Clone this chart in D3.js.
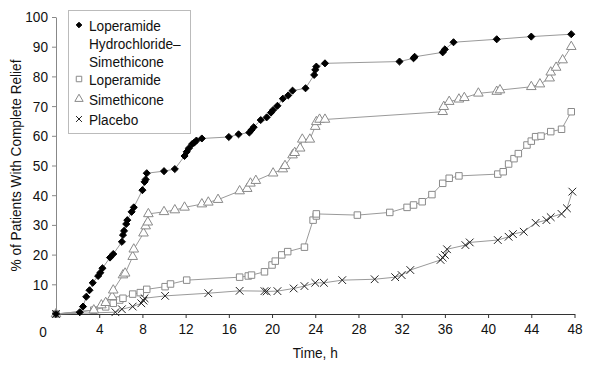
<!DOCTYPE html>
<html>
<head>
<meta charset="utf-8">
<script src="https://cdn.jsdelivr.net/npm/d3@7/dist/d3.min.js"></script>
<style>
  body { margin: 0; background: #fff; }
  svg text { font-family: "Liberation Sans", Arimo, "Helvetica", sans-serif; fill: #111; }
</style>
</head>
<body>
<svg id="svg" width="590" height="373"></svg>
<script>
// hours, % of patients
const comboData = [[0,0],[2.2,0.6],[2.5,2.5],[2.8,5.8],[3.1,8],[3.4,10.5],[3.9,12.8],[4.1,13.9],[4.3,15.4],
  [5.0,19],[5.3,20.2],[6.1,24.3],[6.2,26.6],[6.3,28],[6.5,30.3],[6.6,31.6],[7.0,34.4],[7.2,35.9],
  [8.0,41.7],[8.2,44.5],[8.3,45.3],[8.4,47.4],[10.0,48.1],[11.0,48.8],[11.9,53.2],[12.1,54.6],[12.3,55.8],
  [12.6,57.2],[12.8,57.7],[13.0,58.4],[13.5,59.1],[16.0,59.6],[16.9,60.5],[17.9,61.1],[18.1,62],[18.3,62.9],
  [18.95,65.3],[19.5,66.2],[19.9,67.8],[20.1,68.7],[20.5,70.1],[21.0,72.5],[21.5,73.6],[21.9,75.2],
  [23.1,76],[23.9,80.5],[24.0,82.2],[24.1,83.3],[24.9,84.4],[31.8,85.0],[33.1,86.1],[33.2,86.6],
  [35.8,88.1],[36.0,89.1],[36.8,91.5],[40.8,92.5],[44.0,93.4],[47.7,94.2]];

const loperamideData = [[0,0],[3.5,1.3],[4.6,2.4],[5.3,3.6],[5.9,4.7],[6.2,5.3],[7.1,6.7],[7.8,7.2],[8.4,8.3],
  [10.1,9.2],[10.6,10.1],[12.1,11.4],[17.0,12.4],[17.8,12.8],[18.1,13.1],[19.3,14.2],[20.0,16.5],
  [20.3,17.8],[20.9,19.9],[21.45,21],[23.0,22.5],[23.8,31.6],[24.1,33],[24.1,33.7],[27.9,33.3],
  [30.9,34.2],[32.5,35.9],[33.1,36.7],[33.9,37.8],[34.8,40.2],[35.8,44],[36.4,45.7],[37.3,46.5],
  [40.9,47.1],[41.4,47.9],[41.9,50.5],[42.4,52.3],[42.8,54],[43.6,56.9],[44.0,58.2],[44.4,59.7],
  [44.9,59.9],[45.8,61.4],[46.8,62.2],[47.7,68.1]];

const simethiconeData = [[0,0],[3.5,1.3],[4.2,3],[4.6,3.8],[5.2,5.8],[5.3,8],[6.2,13.1],[6.4,13.7],[7.1,19.3],
  [7.2,21.8],[8.1,27.2],[8.3,29.6],[8.5,30.9],[8.55,33.7],[10.0,34.4],[11.0,35],[11.9,35.9],[13.5,37],
  [14.1,37.6],[15.0,38.5],[17.0,41.4],[17.7,42.2],[18.0,44],[18.5,44.9],[20.1,47.4],[21.0,48.8],
  [21.2,49.9],[21.9,53.5],[22.1,54.3],[22.6,55.8],[22.8,58.8],[23.5,58.8],[24.0,63.1],[24.1,64.7],
  [24.4,65.5],[24.9,65.5],[35.8,68.1],[35.9,69.8],[36.4,71.5],[37.3,72.3],[37.8,72.8],[39.1,74.3],
  [40.8,74.9],[41.1,75.4],[44.0,76.5],[44.8,77.4],[45.7,79.4],[45.8,81.4],[46.3,83],[46.9,85.5],[47.7,90]];

const placeboData = [[0,0],[5.5,0.6],[6.1,1.6],[7.1,2.5],[7.9,3.6],[8.1,4.5],[8.2,5.3],[10.1,6.1],[14.1,7],
  [17.0,7.8],[19.3,7.7],[19.5,7.6],[20.5,7.7],[22.0,8.6],[23.0,9.4],[24.0,10.5],[24.8,10.5],[26.5,11.4],
  [29.5,11.7],[31.4,12.4],[32.0,13.1],[32.8,14.8],[35.6,18.2],[35.8,19],[36.0,19.9],[36.2,21.8],
  [37.9,23.2],[38.3,24.1],[40.9,24.9],[41.9,26],[42.3,26.9],[43.3,27.7],[44.4,30.7],[45.4,31.6],
  [45.8,32.6],[46.8,33.7],[47.3,35.6],[47.8,41.2]];

const legendLabels = [["Loperamide", "Hydrochloride\u2013", "Simethicone"], ["Loperamide"], ["Simethicone"], ["Placebo"]];
const xTicks = [4, 8, 12, 16, 20, 24, 28, 32, 36, 40, 44, 48];
const yTicks = [10, 20, 30, 40, 50, 60, 70, 80, 90, 100];

const svg = d3.select('#svg');
const squeeze = 0.88; // the original type is a condensed sans

const x = d3.scaleLinear().domain([0, 48]).range([56, 574.5]);
const y = d3.scaleLinear().domain([0, 100]).range([314, 17]);

// narrow text: scale horizontally round the anchor point
const narrowText = (g, tx, ty, str, size, anchor) => {
  return g.append('text')
    .attr('transform', `translate(${tx},${ty}) scale(${squeeze},1)`)
    .attr('text-anchor', anchor || 'start')
    .attr('font-size', size)
    .text(str);
}

//------ axes ------
const xAxis = svg.append('g')
  .attr('transform', `translate(0,${y(0)})`)
  .call(d3.axisBottom(x).tickValues(xTicks).tickSize(4).tickSizeOuter(0).tickPadding(4));
xAxis.select('.domain').attr('stroke', '#333');
xAxis.selectAll('.tick line').attr('stroke', '#333');
xAxis.selectAll('text').attr('font-size', 15.5).attr('fill', '#111')
  .attr('transform', `scale(${squeeze},1)`).attr('dy', '0.78em');

const yAxis = svg.append('g')
  .attr('transform', `translate(${x(0)},0)`)
  .call(d3.axisLeft(y).tickValues(yTicks).tickSize(4).tickSizeOuter(0).tickPadding(3));
yAxis.select('.domain').attr('stroke', '#888');
yAxis.selectAll('.tick line').attr('stroke', '#888');
yAxis.selectAll('text').attr('font-size', 15.5).attr('fill', '#111')
  .attr('x', -8 / squeeze)
  .attr('transform', `scale(${squeeze},1)`);

narrowText(svg, 43, 337, '0', 15.5, 'middle');
narrowText(svg, (x(0) + x(48)) / 2, 358, 'Time, h', 15.5, 'middle');

svg.append('text')
  .attr('transform', `translate(21,${(y(0) + y(100)) / 2}) rotate(-90) scale(${squeeze},1)`)
  .attr('text-anchor', 'middle')
  .attr('font-size', 15.5)
  .text('% of Patients With Complete Relief');

//------ series ------
const series = [
  { data: loperamideData, sym: d3.symbolSquare, size: 42, fill: '#fff', stroke: '#8a8a8a' },
  { data: simethiconeData, sym: d3.symbolTriangle, size: 40, fill: '#fff', stroke: '#8a8a8a' },
  { data: placeboData, sym: d3.symbolTimes, size: 40, fill: 'none', stroke: '#222' },
  { data: comboData, sym: d3.symbolDiamond2, size: 32, fill: '#000', stroke: '#000' }
];

const line = d3.line().x(d => x(d[0])).y(d => y(d[1]));

series.forEach(s => {
  svg.append('path')
    .datum(s.data)
    .attr('fill', 'none')
    .attr('stroke', '#9a9a9a')
    .attr('stroke-width', 1)
    .attr('d', line);
});

series.forEach(s => {
  svg.append('g').selectAll('path')
    .data(s.data)
    .join('path')
    .attr('transform', d => `translate(${x(d[0])},${y(d[1])})`)
    .attr('d', d3.symbol(s.sym, s.size))
    .attr('fill', s.fill)
    .attr('stroke', s.stroke)
    .attr('stroke-width', 1);
});

//------ legend ------
const legend = svg.append('g');
legend.append('rect')
  .attr('x', 68.5).attr('y', 10.5)
  .attr('width', 122).attr('height', 123)
  .attr('fill', '#fff')
  .attr('stroke', '#bbb')
  .attr('stroke-width', 1)
  .attr('shape-rendering', 'crispEdges');

const legendSyms = [
  { sym: d3.symbolDiamond2, size: 20, fill: '#000', stroke: '#000' },
  { sym: d3.symbolSquare, size: 30, fill: '#fff', stroke: '#8a8a8a' },
  { sym: d3.symbolTriangle, size: 30, fill: '#fff', stroke: '#8a8a8a' },
  { sym: d3.symbolTimes, size: 24, fill: 'none', stroke: '#222' }
];
const legendRowY = [25, 79, 99, 119];

legendLabels.forEach((lines, i) => {
  legend.append('path')
    .attr('transform', `translate(79,${legendRowY[i]})`)
    .attr('d', d3.symbol(legendSyms[i].sym, legendSyms[i].size))
    .attr('fill', legendSyms[i].fill)
    .attr('stroke', legendSyms[i].stroke);
  lines.forEach((t, j) => {
    narrowText(legend, 89, legendRowY[i] + 5.5 + j * 18, t, 15.5);
  });
});
</script>
</body>
</html>
